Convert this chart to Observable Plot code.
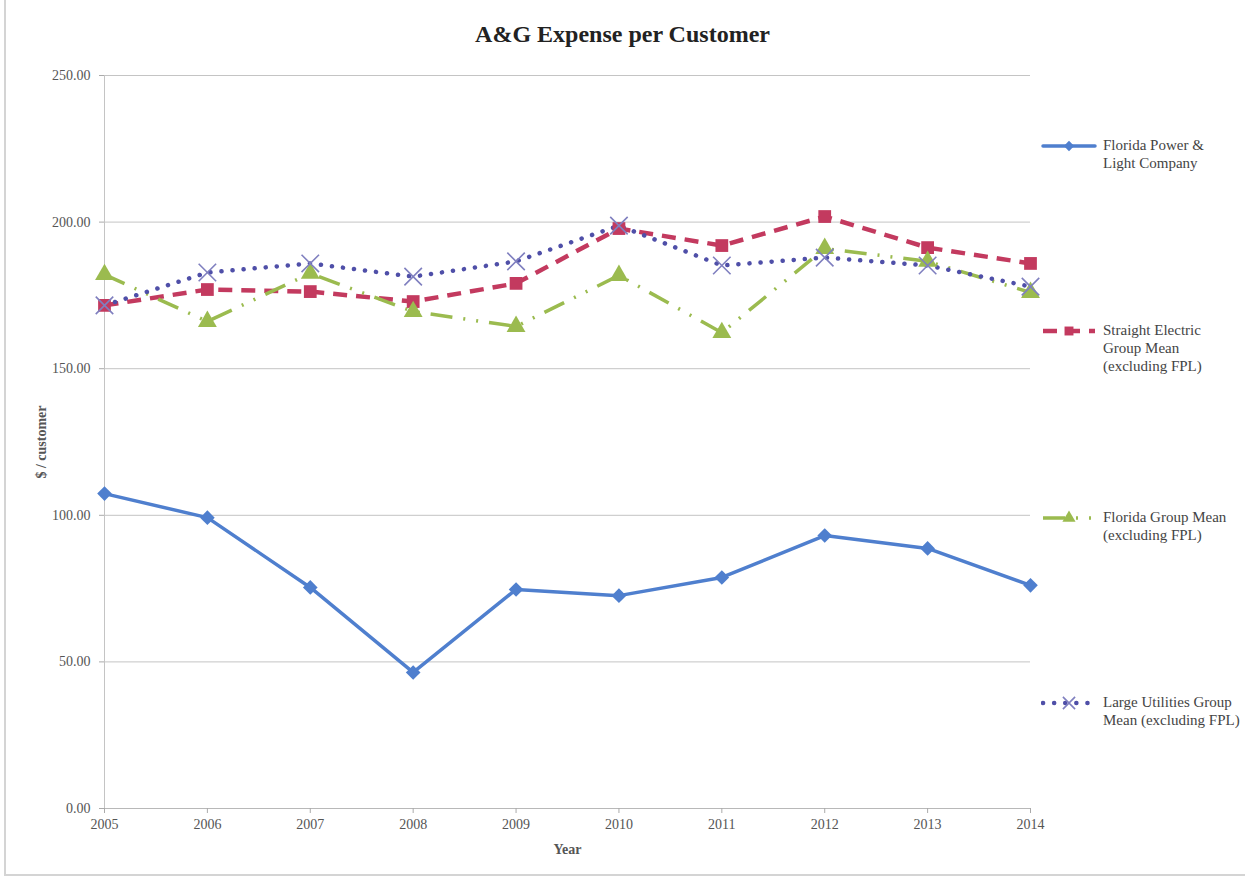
<!DOCTYPE html>
<html>
<head>
<meta charset="utf-8">
<script src="https://cdn.jsdelivr.net/npm/d3@7"></script>
<script src="https://cdn.jsdelivr.net/npm/@observablehq/plot@0.6"></script>
<style>
  body { margin: 0; background: #fff; }
  #frame {
    position: relative; box-sizing: border-box;
    font-family: "Liberation Serif", "DejaVu Serif", serif;
    border-left: 2px solid #d4d4d4; border-bottom: 2px solid #d4d4d4;
    margin-left: 4px; width: 1241px; height: 876px;
  }
  #title {
    position: absolute; left: -6px; width: 1245px; top: 21px; text-align: center;
    font-size: 24px; font-weight: bold; color: #222;
  }
  #chart { position: absolute; left: -6px; top: 0; }
  #chart [aria-label="y-axis label"], #chart [aria-label="x-axis label"] { font-weight: bold; font-size: 14px; }
  .legend-item { position: absolute; left: 1035px; display: flex; align-items: flex-start; }
  .legend-item svg { flex: none; margin-top: 2px; }
  .legend-item span { margin-left: 6px; font-size: 15px; line-height: 18px; color: #444; }
</style>
</head>
<body>
<div id="frame">
  <div id="title">A&amp;G Expense per Customer</div>
  <div id="chart"></div>
</div>
<script>
// A&G expense per customer ($), 2005–2014
const years = [2005, 2006, 2007, 2008, 2009, 2010, 2011, 2012, 2013, 2014];
const seriesNames = [
  "Florida Power & Light Company",
  "Straight Electric Group Mean (excluding FPL)",
  "Florida Group Mean (excluding FPL)",
  "Large Utilities Group Mean (excluding FPL)"
];
const fpl              = [107.4, 99.2, 75.4, 46.4, 74.7, 72.6, 78.8, 93.1, 88.7, 76.1];
const straightElectric = [171.6, 177.0, 176.3, 172.9, 179.1, 197.8, 192.0, 201.9, 191.3, 185.9];
const floridaGroup     = [182.1, 166.1, 182.5, 169.5, 164.4, 181.8, 162.3, 191.0, 186.6, 176.0];
const largeUtilities   = [171.6, 182.8, 185.9, 181.4, 186.6, 198.8, 185.2, 187.9, 185.2, 178.0];
const yTicks = [0, 50, 100, 150, 200, 250];
const legendLines = [
  ["Florida Power &", "Light Company"],
  ["Straight Electric", "Group Mean", "(excluding FPL)"],
  ["Florida Group Mean", "(excluding FPL)"],
  ["Large Utilities Group", "Mean (excluding FPL)"]
];

const values = [fpl, straightElectric, floridaGroup, largeUtilities];
const rows = seriesNames.flatMap((name, i) =>
  years.map((year, j) => ({series: name, year, value: values[i][j]}))
);

// Per-series line and marker styling
const styles = [
  {color: "#4f7fce", dash: null,               width: 3.5, cap: "round", symbol: "diamond2", r: 6.6, markFill: "#4f7fce", markStroke: "none",    legendTop: 136},
  {color: "#c33a5f", dash: "14 9",             width: 4.5, cap: "butt",  symbol: "square",   r: 7.2, markFill: "#c33a5f", markStroke: "none",    legendTop: 321},
  {color: "#9bbb4f", dash: "22 11 2 11 2 11",  width: 3.5, cap: "butt",  symbol: "triangle", r: 7.0, markFill: "#9bbb4f", markStroke: "none",    legendTop: 508},
  {color: "#4f4fa8", dash: "0.1 11",           width: 4.5, cap: "round", symbol: "times",    r: 8.0, markFill: "none",    markStroke: "#7f7fbf", legendTop: 693}
];

const marks = [
  Plot.gridY(yTicks, {stroke: "#c4c4c4", strokeOpacity: 1, strokeWidth: 1}),
  Plot.ruleX([years[0]], {y1: 0, y2: yTicks[yTicks.length - 1], stroke: "#c4c4c4"}),
  Plot.ruleY([0], {stroke: "#b8b8b8"}),
  Plot.axisY(yTicks, {
    tickFormat: d => d.toFixed(2), tickSize: 5, tickPadding: 9,
    stroke: "#aaa", fill: "#555", fontSize: 14,
    label: "$ / customer", labelAnchor: "center", labelArrow: "none", labelOffset: 68
  }),
  Plot.axisX(years, {
    tickFormat: d => String(d), tickSize: 5, tickPadding: 6,
    stroke: "#aaa", fill: "#555", fontSize: 14,
    label: "Year", labelAnchor: "center", labelArrow: "none", labelOffset: 45
  })
];

seriesNames.forEach((name, i) => {
  const s = styles[i];
  const data = rows.filter(d => d.series === name);
  marks.push(Plot.line(data, {
    x: "year", y: "value", stroke: s.color, strokeWidth: s.width,
    strokeDasharray: s.dash, strokeLinecap: s.cap, strokeLinejoin: "round"
  }));
});
seriesNames.forEach((name, i) => {
  const s = styles[i];
  const data = rows.filter(d => d.series === name);
  marks.push(Plot.dot(data, {
    x: "year", y: "value", symbol: () => s.symbol, r: s.r,
    fill: s.markFill, stroke: s.markStroke, strokeWidth: 1.6
  }));
});

const chart = Plot.plot({
  width: 1245,
  height: 878,
  marginTop: 75,
  marginBottom: 70,
  marginLeft: 104,
  marginRight: 215,
  style: {fontFamily: "'Liberation Serif', 'DejaVu Serif', serif", fontSize: "14px", color: "#222", background: "transparent"},
  x: {domain: [years[0], years[years.length - 1]]},
  y: {domain: [0, 250]},
  symbol: {type: "identity"},
  marks
});
document.getElementById("chart").append(chart);

// Legend: one swatch (line + marker) and wrapped label per series
const frame = document.getElementById("frame");
seriesNames.forEach((name, i) => {
  const s = styles[i];
  const item = document.createElement("div");
  item.className = "legend-item";
  item.style.top = s.legendTop + "px";
  const sw = d3.create("svg").attr("width", 56).attr("height", 16);
  sw.append("line").attr("x1", 2).attr("x2", 54).attr("y1", 8).attr("y2", 8)
    .attr("stroke", s.color).attr("stroke-width", s.width)
    .attr("stroke-dasharray", s.dash).attr("stroke-linecap", s.cap);
  const symType = {diamond2: d3.symbolDiamond2, square: d3.symbolSquare, triangle: d3.symbolTriangle, times: d3.symbolTimes}[s.symbol];
  sw.append("path").attr("transform", "translate(28,8)")
    .attr("d", d3.symbol(symType, Math.PI * (s.r * 0.7) ** 2)())
    .attr("fill", s.markFill).attr("stroke", s.markStroke).attr("stroke-width", 1.6);
  item.append(sw.node());
  const label = document.createElement("span");
  label.innerHTML = legendLines[i].map(t => t.replace("&", "&amp;")).join("<br>");
  item.append(label);
  frame.append(item);
});
</script>
</body>
</html>
